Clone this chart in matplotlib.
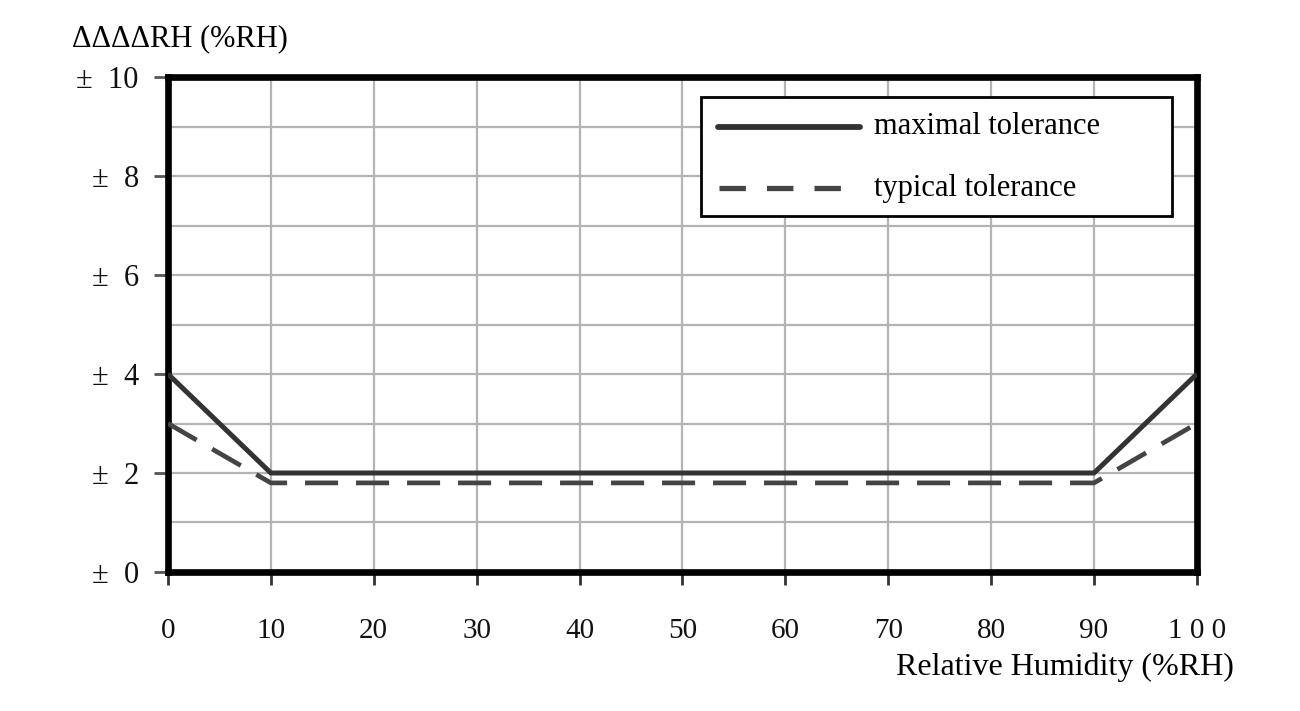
import matplotlib
matplotlib.use("Agg")
import matplotlib.pyplot as plt
from matplotlib.lines import Line2D

# Data
rh = [0, 10, 90, 100]
max_tol = [4, 2, 2, 4]
typ_tol = [3, 1.8, 1.8, 3]
x_ticks = [0, 10, 20, 30, 40, 50, 60, 70, 80, 90, 100]
x_labels = ["0", "10", "20", "30", "40", "50", "60", "70", "80", "90", "1 0 0"]
y_ticks = [0, 2, 4, 6, 8, 10]
y_labels = ["±  0", "±  2", "±  4", "±  6", "±  8", "±  10"]

plt.rcParams['font.family'] = ['Liberation Serif', 'DejaVu Serif']

fig = plt.figure(figsize=(13, 7.11), dpi=100)
ax = fig.add_axes([0.1292, 0.1955, 0.7915, 0.6962])

ax.set_xlim(0, 100)
ax.set_ylim(0, 10)
ax.set_xticks(x_ticks)
ax.set_xticklabels(x_labels, fontsize=21, color='#111111')
ax.set_yticks(y_ticks)
ax.set_yticklabels(y_labels, fontsize=22, color='#111111')
ax.set_yticks(range(1, 10, 2), minor=True)
ax.tick_params(axis='y', which='minor', length=0)
ax.tick_params(axis='x', which='major', length=9, width=2, color='#333333', pad=24)
ax.tick_params(axis='y', which='major', length=10, width=2, color='#555555', pad=11)

ax.grid(True, which='both', color='#b4b4b4', linewidth=1.6)
ax.set_axisbelow(True)
for s in ax.spines.values():
    s.set_linewidth(4.8)
    s.set_color('black')

ax.plot(rh, max_tol, color='#333333', linewidth=3.6, solid_capstyle='butt', zorder=3)
ax.plot(rh, typ_tol, color='#444444', linewidth=3.4, dashes=(7, 3.8), zorder=3)

# Legend box
ax.add_patch(plt.Rectangle((51.8, 7.2), 45.8, 2.4, facecolor='white', edgecolor='black',
                           linewidth=2, zorder=4))
ax.add_line(Line2D([53.5, 67.3], [9.0, 9.0], color='#333333', linewidth=4.2, zorder=5,
                   solid_capstyle='round'))
ax.add_line(Line2D([53.6, 66.3], [7.75, 7.75], color='#444444', linewidth=3.8,
                   dashes=(5, 4), zorder=5))
ax.text(68.6, 9.0, "maximal tolerance", fontsize=22, va='center', ha='left', zorder=5,
        clip_on=True)
ax.text(68.6, 7.75, "typical tolerance", fontsize=22, va='center', ha='left', zorder=5)

fig.text(0.0555, 0.946, "ΔΔΔΔRH (%RH)", fontsize=22, ha='left', va='center')
fig.text(0.949, 0.061, "Relative Humidity (%RH)", fontsize=23, ha='right', va='center')

fig.savefig("out.png", dpi=100, facecolor='white')
